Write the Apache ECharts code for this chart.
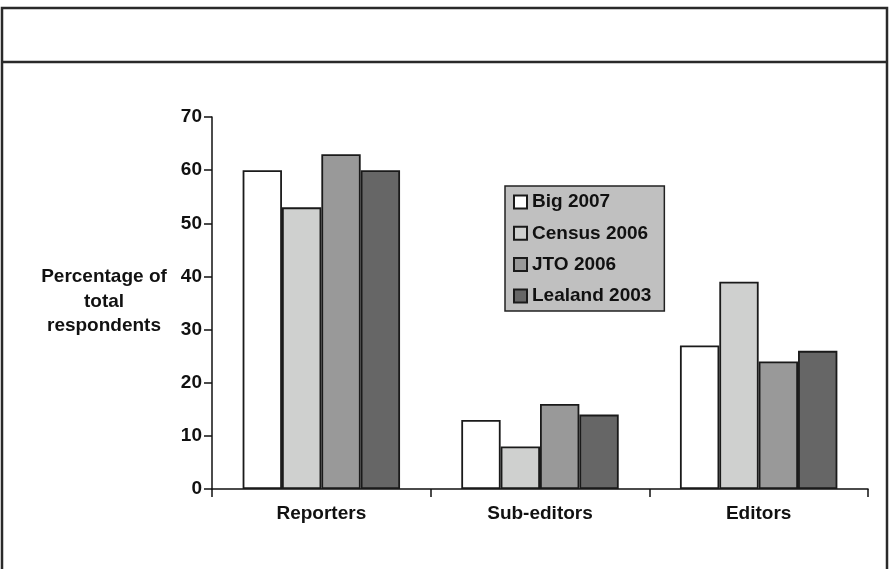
<!DOCTYPE html>
<html><head><meta charset="utf-8">
<script src="https://cdn.jsdelivr.net/npm/echarts@6/dist/echarts.min.js"></script>
<style>html,body{margin:0;padding:0;background:#fff}#c{width:890px;height:569px}</style>
</head><body><div id="c"></div>
<script>
const categories = ['Reporters', 'Sub-editors', 'Editors'];
const seriesNames = ['Big 2007', 'Census 2006', 'JTO 2006', 'Lealand 2003'];
const big2007 = [60, 13, 27];
const census2006 = [53, 8, 39];
const jto2006 = [63, 16, 24];
const lealand2003 = [60, 14, 26];
const yTicks = [0, 10, 20, 30, 40, 50, 60, 70];
const colors = ['#ffffff', '#cfd0cf', '#999999', '#666666'];
const values = [big2007, census2006, jto2006, lealand2003];

const chart = echarts.init(document.getElementById('c'));
const font = 'Liberation Sans, Arial, sans-serif';
chart.setOption({
  animation: false,
  textStyle: {fontFamily: font},
  graphic: [
    {type: 'rect', shape: {x: 2, y: 8, width: 885, height: 570}, style: {fill: 'none', stroke: '#2a2a2a', lineWidth: 2.5}},
    {type: 'line', shape: {x1: 2, y1: 62, x2: 887, y2: 62}, style: {stroke: '#2a2a2a', lineWidth: 2.5}},
    {type: 'text', x: 104, y: 265, style: {text: 'Percentage of\ntotal\nrespondents', fontFamily: font, fontWeight: 'bold', fontSize: 19, lineHeight: 24.5, align: 'center', verticalAlign: 'top', fill: '#111'}}
  ],
  legend: {
    orient: 'vertical', left: 505, top: 186,
    backgroundColor: '#c0c0c0', borderColor: '#222', borderWidth: 1.5, borderRadius: 0,
    padding: [5, 13, 4, 8], itemWidth: 13, itemHeight: 13, itemGap: 9.3, icon: 'rect',
    textStyle: {fontFamily: font, fontWeight: 'bold', fontSize: 19, color: '#111', lineHeight: 22},
    data: seriesNames
  },
  grid: {left: 212, right: 22, top: 117, bottom: 80, containLabel: false},
  xAxis: {
    type: 'category', data: categories,
    axisLine: {lineStyle: {color: '#111', width: 1.5}},
    axisTick: {show: true, length: 8, lineStyle: {color: '#111', width: 1.5}},
    axisLabel: {fontFamily: font, fontWeight: 'bold', fontSize: 19, color: '#111', margin: 15}
  },
  yAxis: {
    type: 'value', min: 0, max: 70, interval: 10,
    axisLine: {show: true, lineStyle: {color: '#111', width: 1.5}},
    axisTick: {show: true, length: 8, lineStyle: {color: '#111', width: 1.5}},
    splitLine: {show: false},
    axisLabel: {fontFamily: font, fontWeight: 'bold', fontSize: 19, color: '#111', margin: 10,
      formatter: v => yTicks.includes(v) ? String(v) : ''}
  },
  series: seriesNames.map((n, i) => ({
    name: n, type: 'bar', data: values[i], barGap: '0%', barCategoryGap: '28%',
    itemStyle: {color: colors[i], borderColor: '#1a1a1a', borderWidth: 1.8}
  }))
});
</script></body></html>
